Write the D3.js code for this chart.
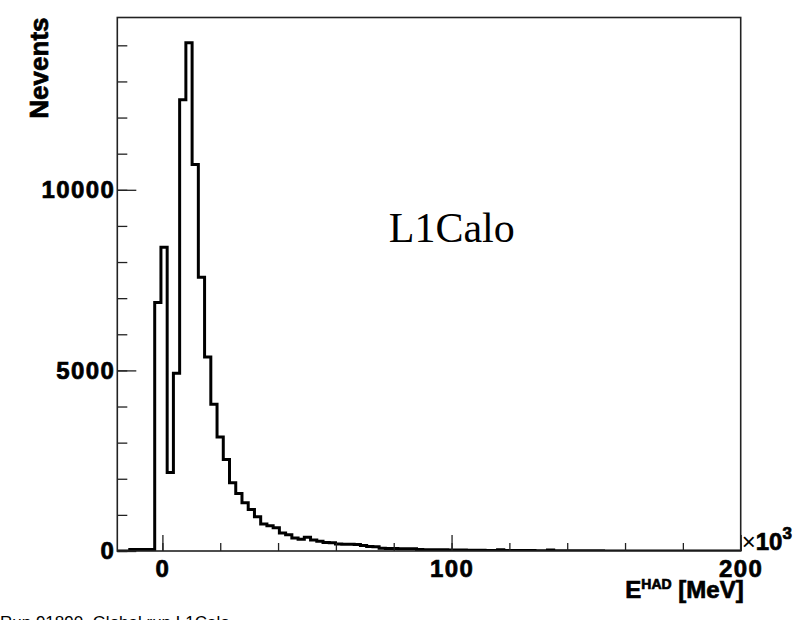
<!DOCTYPE html>
<html>
<head>
<meta charset="utf-8">
<script src="https://cdn.jsdelivr.net/npm/d3@7"></script>
<style>
  body { margin: 0; background: #fff; }
  svg text { font-family: "Liberation Sans", Arial, sans-serif; font-weight: bold; fill: #000; }
  .heavy { stroke: #000; stroke-width: 0.7px; }
</style>
</head>
<body>
<div id="hist"></div>
<script>
// histogram binning, x in units of 10^3 MeV
var binLow = -15.6;
var binWidth = 2.156;
var counts = [
  0, 0, 40, 40, 45, 45, 6880, 8410, 2170, 4920,
  12490, 14070, 10700, 7580, 5370, 4060, 3157, 2533, 1887, 1594,
  1334, 1152, 948, 746, 699, 644, 497, 450, 359, 323,
  378, 304, 268, 235, 225, 195, 190, 185, 180, 150,
  125, 120, 75, 70, 68, 65, 62, 60, 40, 38,
  36, 34, 32, 30, 28, 25, 22, 20, 18, 17,
  16, 35, 15, 14, 14, 12, 12, 10, 10, 30,
  8, 7, 6, 6, 5, 5, 4, 4, 3, 3,
  3, 2, 2, 2, 1, 1, 1, 1, 1, 1,
  0, 0, 1, 0, 0, 0, 0, 0, 0, 0
];
var yTicks = [0, 5000, 10000];
var yMinorTicks = d3.range(0, 15000, 1000);
var xTicks = [0, 100, 200];
var xMinorTicks = d3.range(0, 201, 20);
var yMax = 14770;

// set the dimensions and margins of the graph
var margin = {top: 17.5, right: 67.3, bottom: 69, left: 117.3},
    width = 808 - margin.left - margin.right,
    height = 620 - margin.top - margin.bottom;

var root = d3.select("#hist")
  .append("svg")
    .attr("width", 808)
    .attr("height", 620);

var svg = root.append("g")
    .attr("transform", "translate(" + margin.left + "," + margin.top + ")");

var x = d3.scaleLinear()
  .domain([binLow, binLow + counts.length * binWidth])
  .range([0, width]);

var y = d3.scaleLinear()
  .domain([0, yMax])
  .range([height, 0]);

// clip so the zero-level outline sits half under the axis like ROOT
svg.append("clipPath").attr("id", "frameClip")
  .append("rect")
    .attr("x", 0).attr("y", 0)
    .attr("width", width).attr("height", height);

// step outline of the histogram
var pts = [[x.domain()[0], 0]];
counts.forEach(function(c, i) {
  pts.push([binLow + i * binWidth, c]);
  pts.push([binLow + (i + 1) * binWidth, c]);
});
pts.push([x.domain()[1], 0]);

var line = d3.line()
  .x(function(d) { return x(d[0]); })
  .y(function(d) { return y(d[1]); });

svg.append("path")
  .datum(pts)
  .attr("clip-path", "url(#frameClip)")
  .attr("fill", "none")
  .attr("stroke", "#000")
  .attr("stroke-width", 3)
  .attr("stroke-linejoin", "miter")
  .attr("d", line);

// Y axis: minor + major ticks pointing inward
svg.append("g")
  .call(d3.axisLeft(y).tickValues(yMinorTicks).tickSize(-10).tickFormat(""))
  .call(function(g) { g.select(".domain").remove(); });

var yAxis = svg.append("g")
  .call(d3.axisLeft(y).tickValues(yTicks).tickSize(-19).tickPadding(2).tickFormat(d3.format("d")))
  .call(function(g) { g.select(".domain").remove(); });
yAxis.selectAll("text")
  .attr("class", "heavy")
  .style("font-size", "24px")
  .style("letter-spacing", "1.4px");

// X axis
svg.append("g")
  .attr("transform", "translate(0," + height + ")")
  .call(d3.axisBottom(x).tickValues(xMinorTicks).tickSize(-8).tickFormat(""))
  .call(function(g) { g.select(".domain").remove(); });

var xAxis = svg.append("g")
  .attr("transform", "translate(0," + height + ")")
  .call(d3.axisBottom(x).tickValues(xTicks).tickSize(-16).tickPadding(9).tickFormat(d3.format("d")))
  .call(function(g) { g.select(".domain").remove(); });
xAxis.selectAll("text")
  .attr("class", "heavy")
  .style("font-size", "24px")
  .style("letter-spacing", "1.4px");

svg.selectAll(".tick line")
  .attr("stroke", "#222")
  .attr("stroke-width", 1.3);

// frame
svg.append("rect")
  .attr("x", 0).attr("y", 0)
  .attr("width", width).attr("height", height)
  .attr("fill", "none")
  .attr("stroke", "#222")
  .attr("stroke-width", 1.6);

// x10^3 multiplier
var mult = svg.append("text")
  .attr("x", width + 1)
  .attr("y", height - 1)
  .style("font-size", "24px");
mult.append("tspan").style("font-weight", "normal").text("\u00d7");
mult.append("tspan").attr("class", "heavy").text("10");
mult.append("tspan").attr("class", "heavy").attr("dy", -11).style("font-size", "17px").text("3");

// axis titles
var xTitle = svg.append("text")
  .attr("class", "heavy")
  .attr("text-anchor", "end")
  .attr("x", width + 3)
  .attr("y", height + 47)
  .style("font-size", "24px");
xTitle.append("tspan").text("E");
xTitle.append("tspan").attr("dy", -9).style("font-size", "14px").text("HAD");
xTitle.append("tspan").attr("dy", 9).text(" [MeV]");

svg.append("text")
  .attr("class", "heavy")
  .attr("text-anchor", "end")
  .attr("transform", "rotate(-90)")
  .attr("x", 0)
  .attr("y", -69)
  .style("font-size", "26px")
  .text("Nevents");

// label inside the pad
svg.append("text")
  .attr("x", x(78.3))
  .attr("y", y(8550))
  .style("font-family", "'Liberation Serif', 'Times New Roman', serif")
  .style("font-weight", "normal")
  .style("font-size", "42px")
  .text("L1Calo");

// run info, cut by the bottom edge
root.append("text")
  .attr("x", 0)
  .attr("y", 628)
  .style("font-weight", "normal")
  .style("font-size", "17px")
  .text("Run 91890, Global run  L1Calo");
</script>
</body>
</html>
